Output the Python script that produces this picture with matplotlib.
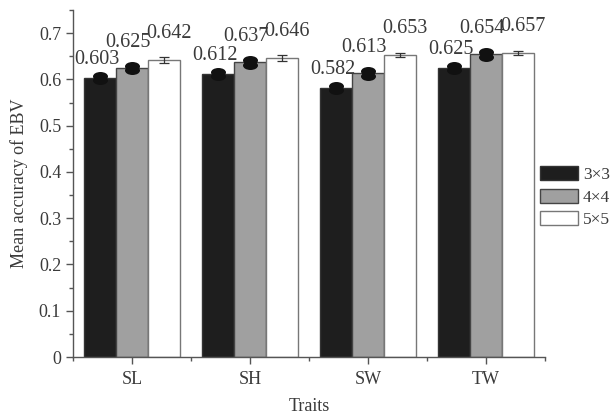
import numpy as np
import matplotlib
matplotlib.use("Agg")
import matplotlib.pyplot as plt
from matplotlib.ticker import MultipleLocator, FixedLocator
from matplotlib.path import Path
from matplotlib.markers import MarkerStyle

# ------------------------------------
# Data
# ------------------------------------
traits = ["SL", "SH", "SW", "TW"]
series_names = ["3\u00d73", "4\u00d74", "5\u00d75"]
acc_3x3 = [0.603, 0.612, 0.582, 0.625]
acc_4x4 = [0.625, 0.637, 0.613, 0.654]
acc_5x5 = [0.642, 0.646, 0.653, 0.657]
err_3x3 = [0.004, 0.004, 0.004, 0.004]
err_4x4 = [0.005, 0.005, 0.005, 0.005]
err_5x5 = [0.006, 0.006, 0.005, 0.005]

plt.rcParams["font.family"] = ["Liberation Serif", "DejaVu Serif"]
text_col = "#3a3a3a"
axis_col = "#555555"

fig = plt.figure(figsize=(6.14, 4.16), dpi=100)
ax = fig.add_axes([0.1189, 0.1418, 0.7687, 0.834])

x = np.arange(len(traits))
w = 0.27
values = [acc_3x3, acc_4x4, acc_5x5]
errors = [err_3x3, err_4x4, err_5x5]
fills = ["#1e1e1e", "#a0a0a0", "white"]
edges = ["#333333", "#444444", "#777777"]
offsets = [-w, 0, w]

# flattened ellipse used for the thick error-bar caps
circ = Path.unit_circle()
blob = MarkerStyle(Path(circ.vertices * [1.0, 0.6], circ.codes))

# label offsets in pixels (dx, dy) above the bar top
label_shift = [(-3, 9), (-4, 16), (5, 17)]

for i in range(3):
    ax.bar(x + offsets[i], values[i], width=w, color=fills[i], edgecolor=edges[i],
           linewidth=1.0, label=series_names[i], zorder=2)
    if i < 2:
        _, caps, bars = ax.errorbar(x + offsets[i], values[i], yerr=errors[i], fmt="none",
                                    ecolor="#111111", elinewidth=8, capsize=5.4, capthick=0,
                                    zorder=3)
        for c in caps:
            c.set_marker(blob)
            c.set_markerfacecolor("#111111")
            c.set_markeredgewidth(0)
    else:
        ax.errorbar(x + offsets[i], values[i], yerr=errors[i], fmt="none",
                    ecolor="#333333", elinewidth=0.9, capsize=3.5, capthick=0.9, zorder=3)
    for xi, v in zip(x + offsets[i], values[i]):
        ax.annotate(f"{v:.3f}", (xi, v), xytext=(label_shift[i][0] * 0.72, label_shift[i][1] * 0.72),
                    textcoords="offset points", ha="center", va="bottom",
                    fontsize=14.5, color=text_col)

ax.set_xlim(-0.5, 3.5)
ax.set_ylim(0, 0.75)
ax.set_xticks(x)
ax.set_xticklabels(traits)
ax.xaxis.set_minor_locator(FixedLocator([-0.5, 0.5, 1.5, 2.5, 3.5]))
ax.set_yticks(np.arange(0, 0.71, 0.1))
ax.set_yticklabels(["0"] + [f"{t:.1f}" for t in np.arange(0.1, 0.71, 0.1)])
ax.yaxis.set_minor_locator(MultipleLocator(0.05))

for s in ["top", "right"]:
    ax.spines[s].set_visible(False)
for s in ["left", "bottom"]:
    ax.spines[s].set_color(axis_col)
    ax.spines[s].set_linewidth(1.0)

ax.tick_params(axis="both", which="major", direction="out", length=5, width=1.0,
               color=axis_col, labelsize=13, labelcolor=text_col)
ax.tick_params(axis="both", which="minor", direction="out", length=3, width=1.0, color=axis_col)
ax.tick_params(axis="x", which="major", pad=5)

ax.set_xlabel("Traits", fontsize=13, color=text_col, labelpad=7)
ax.set_ylabel("Mean accuracy of EBV", fontsize=13, color=text_col, labelpad=8)

fig.legend(loc="upper left", bbox_to_anchor=(0.879, 0.6), frameon=False,
           fontsize=12.5, handlelength=2.2, handleheight=0.85, handletextpad=0.3,
           labelspacing=0.32, labelcolor=text_col, borderpad=0.0, borderaxespad=0.0)

fig.savefig("out.png", dpi=100)
